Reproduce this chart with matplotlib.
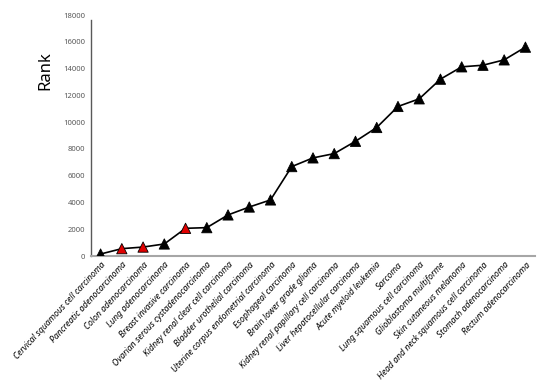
import matplotlib
matplotlib.use("Agg")
import matplotlib.pyplot as plt

cancers = ["Cervical squamous cell carcinoma", "Pancreatic adenocarcinoma", "Colon adenocarcinoma",
           "Lung adenocarcinoma", "Breast invasive carcinoma", "Ovarian serous cystadenocarcinoma",
           "Kidney renal clear cell carcinoma", "Bladder urothelial carcinoma",
           "Uterine corpus endometrial carcinoma", "Esophageal carcinoma", "Brain lower grade glioma",
           "Kidney renal papillary cell carcinoma", "Liver hepatocellular carcinoma",
           "Acute myeloid leukemia", "Sarcoma", "Lung squamous cell carcinoma",
           "Glioblastoma multiforme", "Skin cutaneous melanoma", "Head and neck squamous cell carcinoma",
           "Stomach adenocarcinoma", "Rectum adenocarcinoma"]
rank = [150, 550, 670, 900, 2070, 2120, 3070, 3660, 4190, 6680, 7330, 7650, 8570, 9600,
        11170, 11740, 13210, 14130, 14250, 14650, 15600]
highlight = [1, 2, 4]

plt.rcParams['font.family'] = ['Noto Sans', 'DejaVu Sans']

fig = plt.figure(figsize=(5.5, 3.85), dpi=100)
ax = fig.add_axes([0.1655, 0.335, 0.8072, 0.626])

x = list(range(len(rank)))
ax.plot(x, rank, color="black", lw=1.2, zorder=2)
colors = ["#e00000" if i in highlight else "black" for i in x]
ax.scatter(x, rank, marker="^", s=55, c=colors, edgecolors="black", linewidths=0.6, zorder=3)

ax.set_xlim(-0.45, 20.45)
ax.set_ylim(0, 18000)
ax.set_yticks(range(0, 18001, 2000))
ax.set_xticks(x)
ax.set_xticklabels(cancers, rotation=47, ha="right", rotation_mode="anchor",
                   fontsize=6.2, style="italic", fontweight="medium")
for lab in ax.get_yticklabels():
    lab.set_fontsize(5.5)
    lab.set_fontweight("bold")
    lab.set_color("#595959")
ax.tick_params(axis="both", length=0, pad=4)
ax.tick_params(axis="x", pad=3)

for s in ["top", "right"]:
    ax.spines[s].set_visible(False)
ax.spines["left"].set_color("#595959")
ax.spines["left"].set_linewidth(1.0)
ax.spines["left"].set_bounds(0, 17650)
ax.spines["bottom"].set_color("#a6a6a6")
ax.spines["bottom"].set_linewidth(1.5)

fig.text(45 / 550, 1 - 71 / 385, "Rank", rotation=90, fontsize=12, ha="center", va="center")

fig.savefig("out.png", dpi=100)
